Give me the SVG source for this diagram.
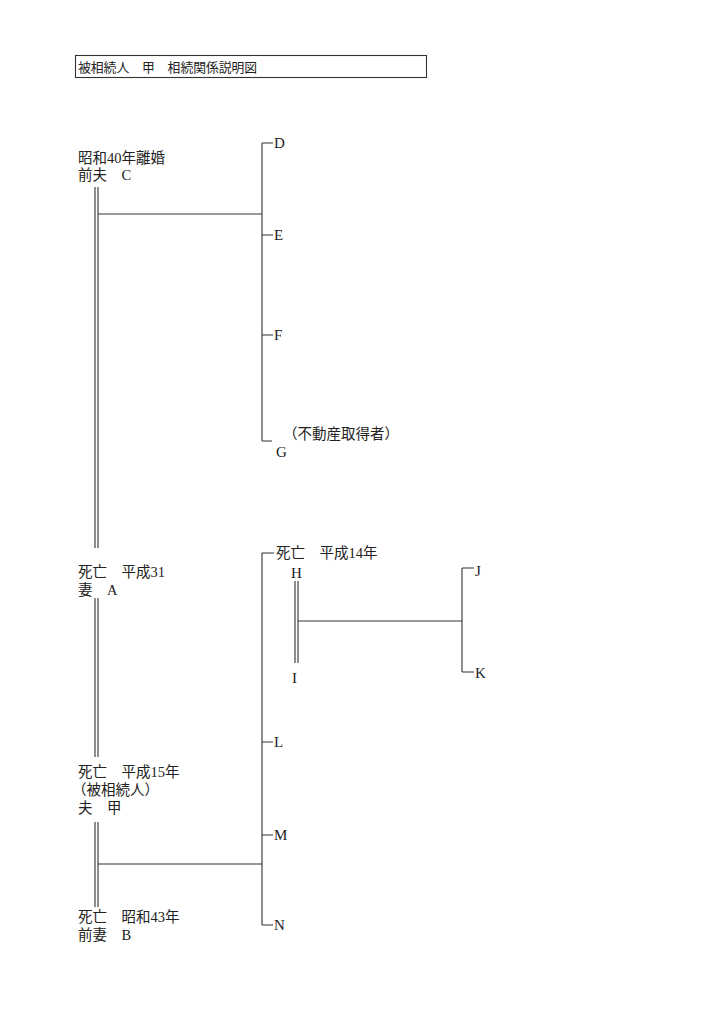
<svg xmlns="http://www.w3.org/2000/svg" width="722" height="1024" viewBox="0 0 722 1024">
<style>
text{font-family:"Liberation Serif","Noto Sans CJK JP",serif;font-size:14.5px;fill:#222}
.t{font-size:12.8px}
.l{font-size:15px}
.ln{stroke:#333;stroke-width:1.1;fill:none}
</style>
<rect x="0" y="0" width="722" height="1024" fill="#fff"/>
<g id="title">
<rect x="75.5" y="55.5" width="351" height="22" class="ln" stroke-width="1.5"/>
<text class="t" x="78" y="72">被相続人　甲　相続関係説明図</text>
</g>
<g id="connectors">
<path class="ln" d="M95 187V548M98 187V548"/>
<path class="ln" d="M98 214H262"/>
<path class="ln" d="M262 143V441M262 143H273M262 235H273M262 335H273M262 441H272"/>
<path class="ln" d="M95 598V757M98 598V757"/>
<path class="ln" d="M95 822V907M98 822V907"/>
<path class="ln" d="M98 864H262"/>
<path class="ln" d="M262 553V925M262 553H274M262 742H273M262 835H273M262 925H273"/>
<path class="ln" d="M295 581V663M298 581V663"/>
<path class="ln" d="M298 621H462"/>
<path class="ln" d="M462 568V672M462 568H474M462 672H474"/>
</g>
<g id="node-C"><text x="78" y="163">昭和40年離婚</text><text x="78" y="180">前夫　C</text></g>
<g id="node-D"><text class="l" x="274" y="148">D</text></g>
<g id="node-E"><text class="l" x="274" y="240">E</text></g>
<g id="node-F"><text class="l" x="274" y="340">F</text></g>
<g id="node-G"><text x="283" y="439">（不動産取得者）</text><text class="l" x="276" y="457">G</text></g>
<g id="node-A"><text x="78" y="577">死亡　平成31</text><text x="78" y="595">妻　A</text></g>
<g id="node-kou"><text x="78" y="777">死亡　平成15年</text><text x="72" y="795">（被相続人）</text><text x="78" y="813">夫　甲</text></g>
<g id="node-B"><text x="78" y="922">死亡　昭和43年</text><text x="78" y="940">前妻　B</text></g>
<g id="node-H"><text x="276" y="558">死亡　平成14年</text><text class="l" x="291" y="578">H</text></g>
<g id="node-I"><text class="l" x="292" y="683">I</text></g>
<g id="node-J"><text class="l" x="475" y="576">J</text></g>
<g id="node-K"><text class="l" x="475" y="678">K</text></g>
<g id="node-L"><text class="l" x="274" y="747">L</text></g>
<g id="node-M"><text class="l" x="274" y="840">M</text></g>
<g id="node-N"><text class="l" x="274" y="930">N</text></g>
</svg>
